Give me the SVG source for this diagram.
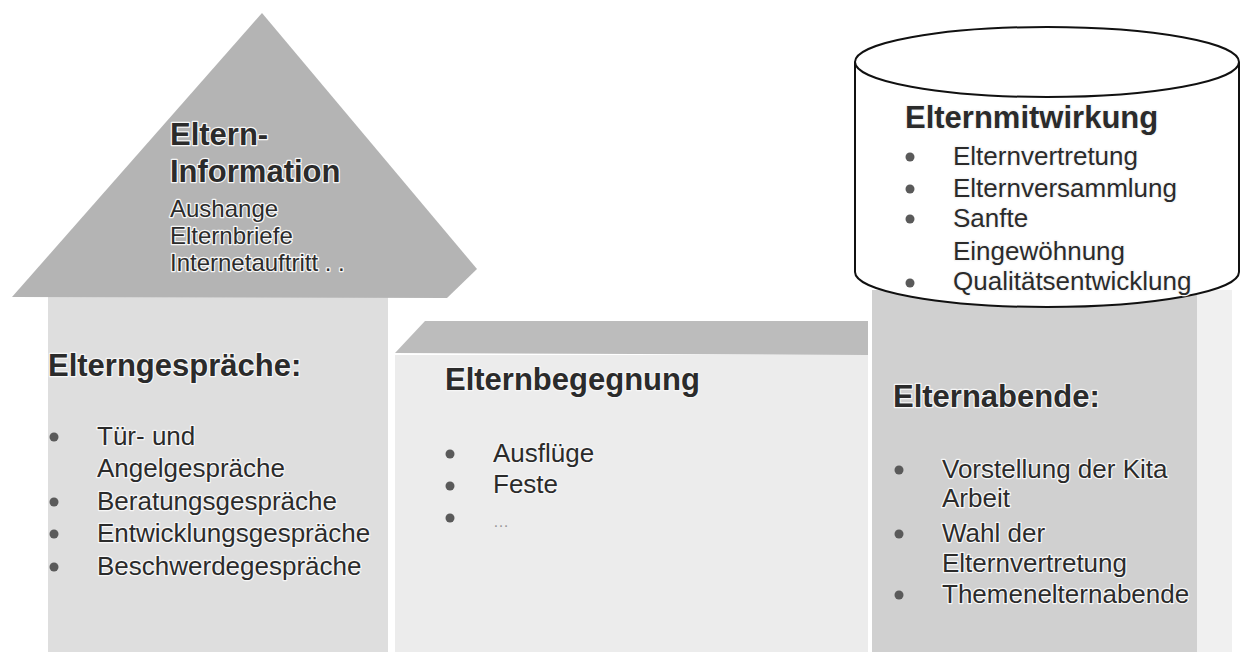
<svg xmlns="http://www.w3.org/2000/svg" width="1240" height="657" viewBox="0 0 1240 657">
<style>
text{font-family:"Liberation Sans",Arial,sans-serif;fill:#2b2b2b;stroke:#f6f6f6;stroke-width:2.5px;paint-order:stroke;stroke-linejoin:round}
.t{font-size:31px;font-weight:bold}
.b{font-size:26px}
.s{font-size:24px}
.dot{fill:#5a5a5a}
</style>
<rect width="1240" height="657" fill="#ffffff"/>
<g id="elterngespraeche">
<rect x="48" y="297" width="340" height="355" fill="#dedede"/>
<text class="t" x="48" y="376">Elterngespräche:</text>
<circle class="dot" cx="54" cy="437" r="4.5"/>
<circle class="dot" cx="54" cy="502" r="4.5"/>
<circle class="dot" cx="54" cy="534" r="4.5"/>
<circle class="dot" cx="54" cy="567" r="4.5"/>
<text class="b" x="97" y="445">Tür- und</text>
<text class="b" x="97" y="477">Angelgespräche</text>
<text class="b" x="97" y="510">Beratungsgespräche</text>
<text class="b" x="97" y="542">Entwicklungsgespräche</text>
<text class="b" x="97" y="575">Beschwerdegespräche</text>
</g>
<g id="elterninformation">
<polygon points="262,13 477,269 447,298 12,297" fill="#b4b4b4"/>
<text class="t" x="170" y="145">Eltern-</text>
<text class="t" x="170" y="182">Information</text>
<text class="s" x="170" y="217">Aushange</text>
<text class="s" x="170" y="244">Elternbriefe</text>
<text class="s" x="170" y="271">Internetauftritt . .</text>
</g>
<g id="elternbegegnung">
<rect x="395" y="355" width="473" height="297" fill="#ececec"/>
<polygon points="425,321 868,321 868,355 395,353" fill="#bcbcbc"/>
<text class="t" x="445" y="390">Elternbegegnung</text>
<circle class="dot" cx="450" cy="454" r="4.5"/>
<circle class="dot" cx="450" cy="486" r="4.5"/>
<circle class="dot" cx="450" cy="518" r="4.5"/>
<text class="b" x="493" y="462">Ausflüge</text>
<text class="b" x="493" y="493">Feste</text>
<text x="493" y="527" style="font-size:16px;fill:#999;stroke:none">…</text>
</g>
<g id="elternabende">
<rect x="1197" y="290" width="35" height="362" fill="#f0f0f0"/>
<rect x="872" y="290" width="325" height="362" fill="#d0d0d0"/>
<text class="t" x="893" y="407">Elternabende:</text>
<circle class="dot" cx="899" cy="470" r="4.5"/>
<circle class="dot" cx="899" cy="534" r="4.5"/>
<circle class="dot" cx="899" cy="595" r="4.5"/>
<text class="b" x="942" y="478">Vorstellung der Kita</text>
<text class="b" x="942" y="507">Arbeit</text>
<text class="b" x="942" y="542">Wahl der</text>
<text class="b" x="942" y="572">Elternvertretung</text>
<text class="b" x="942" y="603">Themenelternabende</text>
</g>
<g id="elternmitwirkung">
<path d="M855,62 L855,272 A192,35 0 0 0 1239,272 L1239,62 A192,35 0 0 0 855,62 Z" fill="#ffffff" stroke="#111" stroke-width="2"/>
<path d="M855,62 A192,35 0 0 0 1239,62" fill="none" stroke="#111" stroke-width="2"/>
<text class="t" x="905" y="128">Elternmitwirkung</text>
<circle class="dot" cx="910" cy="157" r="4.5"/>
<circle class="dot" cx="910" cy="189" r="4.5"/>
<circle class="dot" cx="910" cy="219" r="4.5"/>
<circle class="dot" cx="910" cy="283" r="4.5"/>
<text class="b" x="953" y="165">Elternvertretung</text>
<text class="b" x="953" y="197">Elternversammlung</text>
<text class="b" x="953" y="227">Sanfte</text>
<text class="b" x="953" y="260">Eingewöhnung</text>
<text class="b" x="953" y="290">Qualitätsentwicklung</text>
</g>
<g id="connectors"></g>
</svg>
